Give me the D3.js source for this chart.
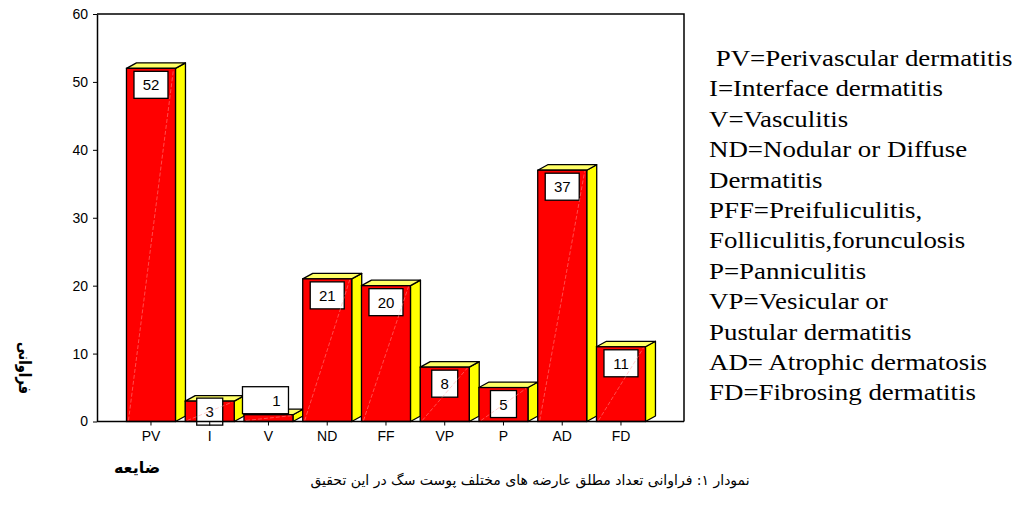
<!DOCTYPE html>
<head>
  <meta charset="utf-8">
  <title>Skin lesion frequency</title>
  <style>
    body { margin: 0; background: #fff; }
    .tick text { font-family: "Liberation Sans", Arial, sans-serif; font-size: 14px; fill: #000; }
    .fa { font-family: "DejaVu Sans", sans-serif; direction: rtl; }
    .legend text { font-family: "Liberation Serif", "Times New Roman", serif; font-size: 23px; white-space: pre; }
  </style>
</head>

<body>
  <script src="https://cdn.jsdelivr.net/npm/d3@7"></script>

  <script>
    // data
    var categories = ["PV", "I", "V", "ND", "FF", "VP", "P", "AD", "FD"];
    var counts = [52, 3, 1, 21, 20, 8, 5, 37, 11];
    var yTicks = [0, 10, 20, 30, 40, 50, 60];
    var legendLines = [
      " PV=Perivascular dermatitis",
      "I=Interface dermatitis",
      "V=Vasculitis",
      "ND=Nodular or Diffuse",
      "Dermatitis",
      "PFF=Preifuliculitis,",
      "Folliculitis,forunculosis",
      "P=Panniculitis",
      "VP=Vesicular or",
      "Pustular dermatitis",
      "AD= Atrophic dermatosis",
      "FD=Fibrosing dermatitis"
    ];
    var yTitle = "فراوانی";
    var xTitle = "ضایعه";
    var caption = "نمودار ۱: فراوانی تعداد مطلق عارضه های مختلف پوست سگ در این تحقیق";

    var w = 1026, h = 507;
    // note: "top" is taken by window.top, so plot* names
    var plotLeft = 97, plotRight = 684, plotTop = 14, plotBottom = 421.5;
    var depthX = 10, depthY = 5.5;

    var svg = d3.select("body").append("svg").attr("width", w).attr("height", h);

    var x = d3.scaleBand().domain(categories)
      .range([121.6, 121.6 + 58.75 * categories.length])
      .paddingInner(0.166).paddingOuter(0.083);
    var y = d3.scaleLinear().domain([0, 60]).range([plotBottom, plotTop]);

    // frame: top and right edges
    svg.append("path")
      .attr("d", "M" + plotLeft + "," + plotTop + "H" + plotRight + "V" + plotBottom)
      .attr("fill", "none").attr("stroke", "#000").attr("stroke-width", 1.5);

    var data = categories.map(function(c, i) { return { cat: c, v: counts[i] }; });

    var bars = svg.selectAll(".bar").data(data).enter().append("g").attr("class", "bar");

    // side face
    bars.append("path")
      .attr("d", function(d) {
        var x1 = x(d.cat) + x.bandwidth(), yt = y(d.v);
        return "M" + x1 + "," + plotBottom + "L" + x1 + "," + yt +
          "L" + (x1 + depthX) + "," + (yt - depthY) + "L" + (x1 + depthX) + "," + (plotBottom - depthY) + "Z";
      })
      .attr("fill", "#ffff00").attr("stroke", "#000").attr("stroke-width", 1.3).attr("stroke-linejoin", "round");

    // top face
    bars.append("path")
      .attr("d", function(d) {
        var x0 = x(d.cat), x1 = x0 + x.bandwidth(), yt = y(d.v);
        return "M" + x0 + "," + yt + "L" + (x0 + depthX) + "," + (yt - depthY) +
          "L" + (x1 + depthX) + "," + (yt - depthY) + "L" + x1 + "," + yt + "Z";
      })
      .attr("fill", "#ffff66").attr("stroke", "#000").attr("stroke-width", 1.3).attr("stroke-linejoin", "round");

    // front face
    bars.append("rect")
      .attr("x", function(d) { return x(d.cat); })
      .attr("y", function(d) { return y(d.v); })
      .attr("width", x.bandwidth())
      .attr("height", function(d) { return plotBottom - y(d.v); })
      .attr("fill", "#ff0000").attr("stroke", "#000").attr("stroke-width", 1.3);

    // value boxes
    var boxH = 27;
    bars.each(function(d) {
      var g = d3.select(this);
      var cx = x(d.cat) + x.bandwidth() / 2;
      var bw = String(d.v).length > 1 ? 34 : 26;
      var by = y(d.v) + 3;
      var bx = cx - bw / 2, tx = cx, anchor = "middle";
      if (by + boxH > plotBottom) {
        if (plotBottom - y(d.v) > 15) {
          by = y(d.v) - 3;
        } else {
          // too short: box sits above the bar
          bw = 46; bx = cx - 26; by = y(d.v) - boxH - 1;
          tx = bx + bw - 8; anchor = "end";
        }
      }
      g.append("rect").attr("x", bx).attr("y", by).attr("width", bw).attr("height", boxH)
        .attr("fill", "#fff").attr("stroke", "#000").attr("stroke-width", 1.3);
      g.append("text").attr("x", tx).attr("y", by + boxH / 2 + 5.5)
        .attr("text-anchor", anchor)
        .style("font-family", "'Liberation Sans', Arial, sans-serif").style("font-size", "15px")
        .text(d.v);
    });

    // faint diagonal highlight on the front faces
    bars.append("line")
      .attr("x1", function(d) { return x(d.cat) + 2; })
      .attr("y1", plotBottom - 1)
      .attr("x2", function(d) { return x(d.cat) + x.bandwidth() - 2; })
      .attr("y2", function(d) { return y(d.v) + 1; })
      .attr("stroke", "#ff9c9c").attr("stroke-width", 0.7).attr("stroke-dasharray", "4,2")
      .attr("opacity", 0.7);

    // axes
    var xAxis = d3.axisBottom(x).tickSize(4).tickSizeOuter(0).tickPadding(6);
    var gx = svg.append("g").attr("transform", "translate(0," + plotBottom + ")").call(xAxis);
    gx.select(".domain").attr("d", "M" + plotLeft + ",0H" + plotRight).attr("stroke-width", 1.5);

    var yAxis = d3.axisLeft(y).tickValues(yTicks).tickSize(4).tickSizeOuter(0).tickPadding(5);
    var gy = svg.append("g").attr("transform", "translate(" + plotLeft + ",0)").call(yAxis);
    gy.select(".domain").attr("stroke-width", 1.5);

    // legend (the source image is a little stretched sideways)
    svg.append("g").attr("class", "legend").attr("transform", "translate(709,0) scale(1.17,1)")
      .selectAll("text").data(legendLines).enter().append("text")
      .attr("x", 0)
      .attr("y", function(d, i) { return 66 + i * 30.4; })
      .text(function(d) { return d; });

    // y title, rotated
    svg.append("text").attr("class", "fa")
      .attr("transform", "translate(19,368) rotate(90)")
      .attr("text-anchor", "middle")
      .attr("textLength", 52).attr("lengthAdjust", "spacingAndGlyphs")
      .style("font-size", "17px").style("font-weight", "bold")
      .text(yTitle);

    // x title
    svg.append("text").attr("class", "fa")
      .attr("x", 137).attr("y", 473)
      .attr("text-anchor", "middle")
      .style("font-size", "16px").style("font-weight", "bold")
      .text(xTitle);

    // caption
    svg.append("text").attr("class", "fa")
      .attr("x", 530).attr("y", 485)
      .attr("text-anchor", "middle")
      .style("font-size", "14px")
      .text(caption);
  </script>
</body>
